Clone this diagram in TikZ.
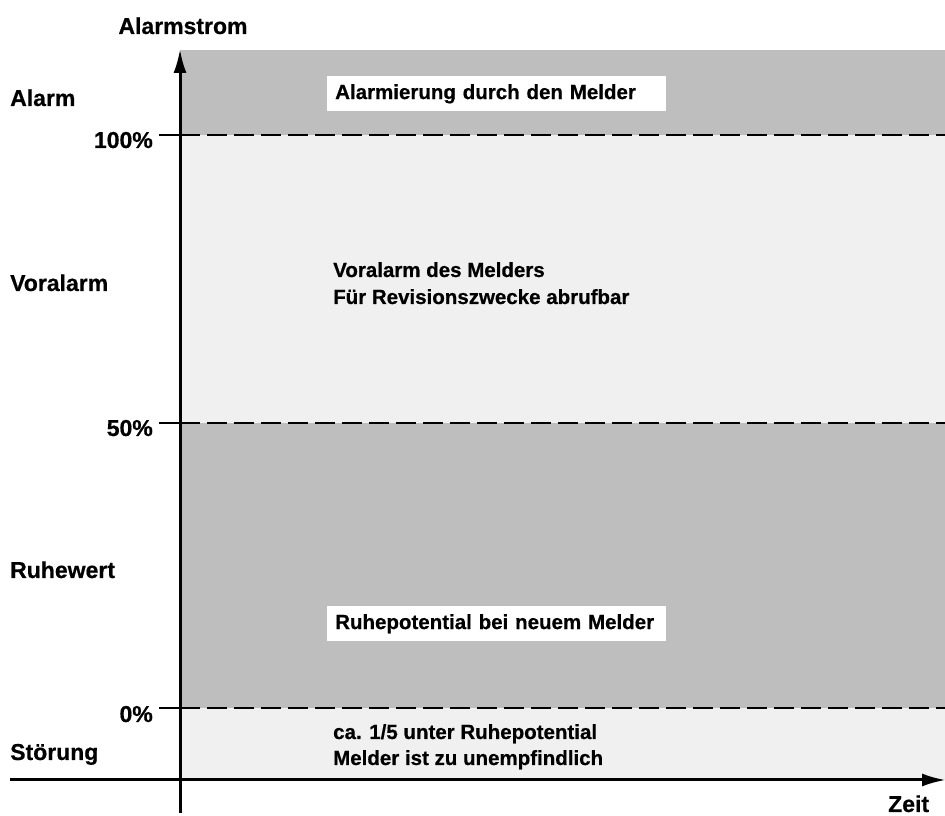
\documentclass[tikz,border=0pt]{standalone}
\usepackage{fontspec}
\setmainfont{Liberation Sans}[UprightFont={* Bold}, BoldFont={* Bold}, UprightFeatures={FakeBold=0.6}]
\usetikzlibrary{arrows.meta}
\definecolor{darkband}{HTML}{BEBEBE}
\definecolor{lightband}{HTML}{F0F0F0}
\tikzset{
  outer/.style={font=\fontsize{23}{27}\selectfont, inner sep=0pt},
  inner/.style={font=\fontsize{20.5}{27}\selectfont, inner sep=0pt, align=left},
  whitebox/.style={fill=white, font=\fontsize{20.5}{27}\selectfont, inner sep=8pt, text width=323pt, minimum height=33pt, align=left, anchor=north west},
  level/.style={line width=2pt, dash pattern=on 20pt off 7pt},
  tick/.style={line width=2pt},
  axis/.style={line width=3pt, -{Latex[length=24pt,width=13pt]}}
}
\begin{document}
\begin{tikzpicture}[x=1pt,y=1pt]
\useasboundingbox (0,0) rectangle (945,816);
% bands
\fill[darkband] (180,681) rectangle (945,766);
\fill[lightband] (180,393) rectangle (945,681);
\fill[darkband] (180,108) rectangle (945,393);
\fill[lightband] (180,36) rectangle (945,108);
% coordinates
\coordinate (ybot) at (180,3);
\coordinate (ytop) at (180,767);
\coordinate (xl) at (10,36);
\coordinate (xr) at (946,36);
\coordinate (t100) at (159,681);
\coordinate (a100) at (180,681);
\coordinate (e100) at (945,681);
\coordinate (t50) at (159,393);
\coordinate (a50) at (180,393);
\coordinate (e50) at (945,393);
\coordinate (t0) at (159,108);
\coordinate (a0) at (180,108);
\coordinate (e0) at (945,108);
% level lines
\draw[level] (a100) -- (e100);
\draw[level] (a50) -- (e50);
\draw[level] (a0) -- (e0);
\draw[tick] (t100) -- (a100);
\draw[tick] (t50) -- (a50);
\draw[tick] (t0) -- (a0);
% axes
\draw[axis] (ybot) -- (ytop);
\draw[axis] (xl) -- (xr);
% labels
\node[outer, anchor=base] (ylab) at (183,782) {Alarmstrom};
\node[outer, anchor=base west] (lalarm) at (10,710) {Alarm};
\node[outer, anchor=base east] (p100) at (153,668) {100\%};
\node[outer, anchor=base west] (lvor) at (10,525) {Voralarm};
\node[outer, anchor=base east] (p50) at (153,380) {50\%};
\node[outer, anchor=base west] (lruhe) at (10,238) {Ruhewert};
\node[outer, anchor=base east] (p0) at (153,94) {0\%};
\node[outer, anchor=base west] (lstoer) at (10,56) {Störung};
\node[outer, anchor=base west] (xlab) at (888,4) {Zeit};
% inner texts
\node[whitebox] (balarm) at (327,740) {Alarmierung durch den Melder};
\node[whitebox] (bruhe) at (327,210) {Ruhepotential bei neuem Melder};
\node[inner, anchor=base west] (tvor1) at (333,539) {Voralarm des Melders};
\node[inner, anchor=base west] (tvor2) at (333,512) {Für Revisionszwecke abrufbar};
\node[inner, anchor=base west] (tst1) at (333,77) {ca. 1/5 unter Ruhepotential};
\node[inner, anchor=base west] (tst2) at (333,51) {Melder ist zu unempfindlich};
\end{tikzpicture}
\end{document}
